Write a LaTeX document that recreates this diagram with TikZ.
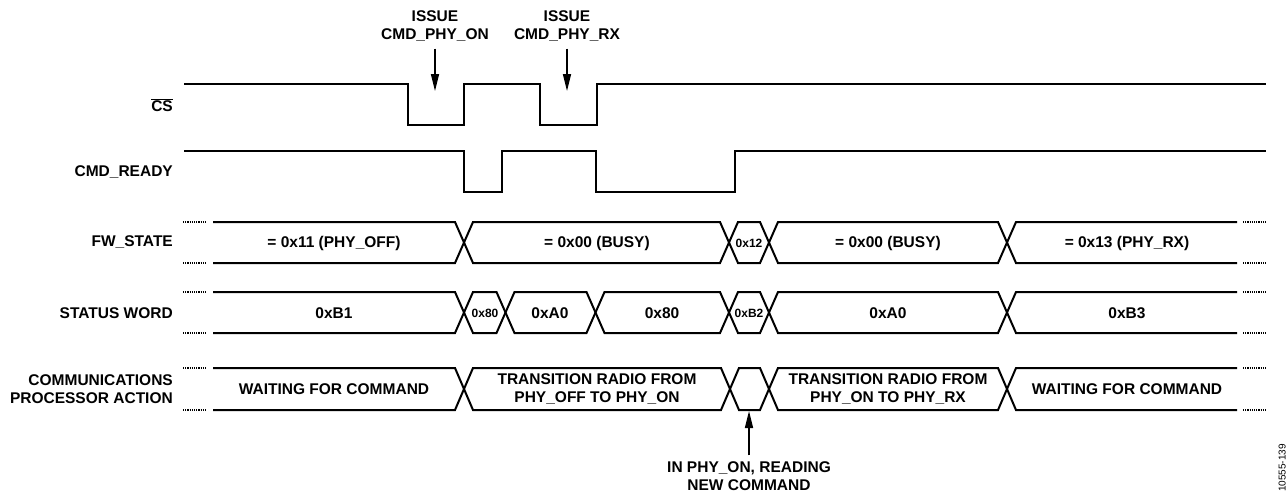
\documentclass[tikz,border=0pt]{standalone}
\usepackage{fontspec}
\setmainfont{Liberation Sans}
\usetikzlibrary{arrows.meta}
\newcommand\busseg[4]{% left centre, right centre, top y, bottom y
  \draw[bus] (#1,{(#3+#4)/2}) -- (#1+9,#3) -- (#2-9,#3) -- (#2,{(#3+#4)/2}) -- (#2-9,#4) -- (#1+9,#4) -- cycle;}
\newcommand\busfirst[3]{% centre, top, bottom
  \draw[bus] (213,#2) -- (#1-9,#2) -- (#1,{(#2+#3)/2}) -- (#1-9,#3) -- (213,#3);
  \draw[dotend] (183,#2) -- (206,#2); \draw[dotend] (183,#3) -- (206,#3);}
\newcommand\buslast[3]{%
  \draw[bus] (1237,#2) -- (#1+9,#2) -- (#1,{(#2+#3)/2}) -- (#1+9,#3) -- (1237,#3);
  \draw[dotend] (1243,#2) -- (1266,#2); \draw[dotend] (1243,#3) -- (1266,#3);}
\tikzset{
  sig/.style={line width=2.2pt, line join=miter},
  bus/.style={line width=2pt, line join=miter},
  dotend/.style={line width=1.6pt, dash pattern=on 1.1pt off 1.1pt},
  lbl/.style={font=\bfseries\fontsize{15.5}{18}\selectfont, inner sep=0pt},
  rowlbl/.style={lbl, anchor=east, align=right},
  val/.style={lbl, align=center},
  small/.style={font=\bfseries\fontsize{12}{14}\selectfont, inner sep=0pt},
  arr/.style={line width=1.6pt, -{Triangle[length=17pt,width=8pt]}},
}
\begin{document}
\begin{tikzpicture}[x=1pt,y=-1pt]
\useasboundingbox (0,0) rectangle (1287,493);

% row labels
\node[rowlbl] (lcs) at (173,105) {$\overline{\hbox{\bfseries\fontsize{15.5}{18}\selectfont CS}}$};
\node[rowlbl] (lcmd) at (173,172) {CMD\_READY};
\node[rowlbl] (lfw) at (173,242) {FW\_STATE};
\node[rowlbl] (lsw) at (173,313) {STATUS WORD};
\node[rowlbl] (lcp) at (173,389) {COMMUNICATIONS\\PROCESSOR ACTION};

% CS
\draw[sig] (184,84) -- (408,84) -- (408,125) -- (464,125) -- (464,84) -- (540,84) -- (540,125) -- (597,125) -- (597,84) -- (1266,84);
% CMD_READY
\draw[sig] (184,151) -- (464,151) -- (464,192) -- (502,192) -- (502,151) -- (596,151) -- (596,192) -- (735,192) -- (735,151) -- (1266,151);

% FW_STATE
\busfirst{464}{222}{263}
\busseg{464}{729}{222}{263}
\busseg{729}{769}{222}{263}
\busseg{769}{1007}{222}{263}
\buslast{1007}{222}{263}
\node[val] (fw1) at (334,243) {= 0x11 (PHY\_OFF)};
\node[val] (fw2) at (597,243) {= 0x00 (BUSY)};
\node[small] (fw3) at (749,243) {0x12};
\node[val] (fw4) at (888,243) {= 0x00 (BUSY)};
\node[val] (fw5) at (1127,243) {= 0x13 (PHY\_RX)};

% STATUS WORD
\busfirst{464}{292}{333}
\busseg{464}{505.5}{292}{333}
\busseg{505.5}{595.5}{292}{333}
\busseg{595.5}{729}{292}{333}
\busseg{729}{769}{292}{333}
\busseg{769}{1007}{292}{333}
\buslast{1007}{292}{333}
\node[val] (sw1) at (334,313) {0xB1};
\node[small] (sw2) at (485,313) {0x80};
\node[val] (sw3) at (550,313) {0xA0};
\node[val] (sw4) at (662,313) {0x80};
\node[small] (sw5) at (749,313) {0xB2};
\node[val] (sw6) at (888,313) {0xA0};
\node[val] (sw7) at (1127,313) {0xB3};

% COMMUNICATIONS PROCESSOR ACTION
\busfirst{464}{368}{410}
\busseg{464}{730}{368}{410}
\busseg{730}{769}{368}{410}
\busseg{769}{1007}{368}{410}
\buslast{1007}{368}{410}
\node[val] (cp1) at (334,389) {WAITING FOR COMMAND};
\node[val] (cp2) at (597,389) {TRANSITION RADIO FROM\\PHY\_OFF TO PHY\_ON};
\node[val] (cp4) at (888,389) {TRANSITION RADIO FROM\\PHY\_ON TO PHY\_RX};
\node[val] (cp5) at (1127,389) {WAITING FOR COMMAND};

% annotations
\node[val, inner ysep=7pt] (iss1) at (435,26) {ISSUE\\CMD\_PHY\_ON};
\node[val, inner ysep=7pt] (iss2) at (567,26) {ISSUE\\CMD\_PHY\_RX};
\coordinate (t1) at (435,91);
\coordinate (t2) at (567,91);
\draw[arr] (iss1) -- (t1);
\draw[arr] (iss2) -- (t2);
\node[val, inner ysep=6pt] (rd) at (749,476) {IN PHY\_ON, READING\\NEW COMMAND};
\coordinate (t3) at (749,411);
\draw[arr] (rd) -- (t3);

\node[font=\fontsize{10}{11}\selectfont, rotate=90, anchor=south west, inner sep=0pt] (fig) at (1286,492) {10555-139};
\end{tikzpicture}
\end{document}
